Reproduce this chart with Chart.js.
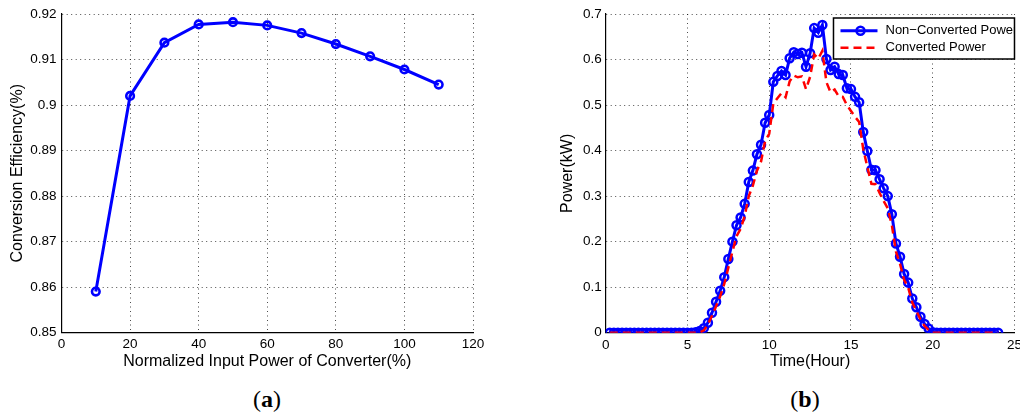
<!DOCTYPE html>
<html lang="en">
<head>
<meta charset="utf-8">
<script src="https://cdn.jsdelivr.net/npm/chart.js"></script>
<style>
    html, body {
        margin: 0;
        padding: 0;
        background: #fff;
        overflow: hidden;
        width: 1020px;
        height: 417px;
    }
    #boxA { position: absolute; left: 0; top: 0; width: 500px; height: 375px; }
    #boxB { position: absolute; left: 540px; top: 0; width: 486px; height: 375px; }
    .tag {
        position: absolute;
        top: 386px;
        width: 60px;
        text-align: center;
        font-family: 'Liberation Serif', serif;
        font-size: 24px;
        color: #000;
    }
    #tagA { left: 237px; }
    #tagB { left: 775px; }
</style>
</head>
<body>
<div id="boxA"><canvas id="chartA" width="500" height="375"></canvas></div>
<div id="boxB"><canvas id="chartB" width="486" height="375"></canvas></div>
<div class="tag" id="tagA">(<b>a</b>)</div>
<div class="tag" id="tagB">(<b>b</b>)</div>

<script>
// (a) efficiency vs normalized input power
const inputPower = [10, 20, 30, 40, 50, 60, 70, 80, 90, 100, 110];
const efficiency = [0.859, 0.902, 0.9137, 0.9177, 0.9182, 0.9175, 0.9158, 0.9134, 0.9107, 0.9078, 0.9045];

// (b) power over the day, 15 min steps
const hours = [
    0.25, 0.5, 0.75, 1, 1.25, 1.5, 1.75, 2, 2.25, 2.5, 2.75, 3,
    3.25, 3.5, 3.75, 4, 4.25, 4.5, 4.75, 5, 5.25, 5.5, 5.75, 6,
    6.25, 6.5, 6.75, 7, 7.25, 7.5, 7.75, 8, 8.25, 8.5, 8.75, 9,
    9.25, 9.5, 9.75, 10, 10.25, 10.5, 10.75, 11, 11.25, 11.5, 11.75, 12,
    12.25, 12.5, 12.75, 13, 13.25, 13.5, 13.75, 14, 14.25, 14.5, 14.75, 15,
    15.25, 15.5, 15.75, 16, 16.25, 16.5, 16.75, 17, 17.25, 17.5, 17.75, 18,
    18.25, 18.5, 18.75, 19, 19.25, 19.5, 19.75, 20, 20.25, 20.5, 20.75, 21,
    21.25, 21.5, 21.75, 22, 22.25, 22.5, 22.75, 23, 23.25, 23.5, 23.75, 24
];
const nonConverted = [
    0, 0, 0, 0, 0, 0, 0, 0, 0, 0, 0, 0,
    0, 0, 0, 0, 0, 0, 0, 0, 0, 0.001, 0.004, 0.010,
    0.022, 0.044, 0.068, 0.092, 0.122, 0.162, 0.200, 0.236, 0.253, 0.283, 0.331, 0.356,
    0.392, 0.413, 0.461, 0.478, 0.551, 0.564, 0.575, 0.566, 0.603, 0.616, 0.612, 0.615,
    0.584, 0.614, 0.669, 0.659, 0.676, 0.601, 0.577, 0.584, 0.568, 0.566, 0.537, 0.535,
    0.518, 0.506, 0.441, 0.399, 0.358, 0.357, 0.337, 0.317, 0.300, 0.260, 0.196, 0.167,
    0.129, 0.110, 0.075, 0.056, 0.035, 0.019, 0.009, 0.001, 0, 0, 0, 0,
    0, 0, 0, 0, 0, 0, 0, 0, 0, 0, 0, 0
];
const converted = [
    0, 0, 0, 0, 0, 0, 0, 0, 0, 0, 0, 0,
    0, 0, 0, 0, 0, 0, 0, 0, 0, 0, 0, 0.005,
    0.018, 0.037, 0.058, 0.080, 0.107, 0.143, 0.178, 0.212, 0.228, 0.256, 0.300, 0.323,
    0.356, 0.376, 0.421, 0.437, 0.503, 0.515, 0.526, 0.517, 0.552, 0.565, 0.561, 0.563,
    0.535, 0.562, 0.611, 0.602, 0.619, 0.550, 0.528, 0.534, 0.519, 0.518, 0.500, 0.487,
    0.474, 0.463, 0.403, 0.364, 0.327, 0.326, 0.307, 0.289, 0.273, 0.236, 0.178, 0.151,
    0.116, 0.099, 0.066, 0.048, 0.029, 0.015, 0.006, 0, 0, 0, 0, 0,
    0, 0, 0, 0, 0, 0, 0, 0, 0, 0, 0, 0
];
const legendLabels = ['Non\u2212Converted Power', 'Converted Power'];

Chart.defaults.font.family = "'Liberation Sans', Arial, sans-serif";
Chart.defaults.color = '#000';
Chart.defaults.animation = false;

const gridDots = { color: 'rgba(0,0,0,0.7)', lineWidth: 1, drawTicks: false };
const borderDots = { display: true, color: '#000', width: 1.2, dash: [1, 3.5] };
const fmt = v => String(+v.toFixed(2));

function xy(xs, ys) {
    return xs.map((x, i) => ({ x: x, y: ys[i] }));
}

// legend box drawn inside the plot, top right, clipped like the original
const boxLegend = {
    id: 'boxLegend',
    afterDraw(chart) {
        const { ctx, chartArea } = chart;
        const w = 181, h = 41;
        const x0 = chartArea.right - w, y0 = chartArea.top + 4;
        ctx.save();
        ctx.fillStyle = '#fff';
        ctx.fillRect(x0, y0, w, h);
        ctx.beginPath();
        ctx.rect(x0, y0, w, h);
        ctx.clip();
        // row 1: blue line with circle
        let ry = y0 + 12.7;
        ctx.strokeStyle = '#0000ff';
        ctx.lineWidth = 3;
        ctx.setLineDash([]);
        ctx.beginPath(); ctx.moveTo(x0 + 7, ry); ctx.lineTo(x0 + 44, ry); ctx.stroke();
        ctx.lineWidth = 2.5;
        ctx.beginPath(); ctx.arc(x0 + 27, ry, 4, 0, Math.PI * 2); ctx.stroke();
        // row 2: red dashes
        let ry2 = y0 + 29.7;
        ctx.strokeStyle = '#ff0000';
        ctx.lineWidth = 2.5;
        ctx.setLineDash([8, 5]);
        ctx.beginPath(); ctx.moveTo(x0 + 7, ry2); ctx.lineTo(x0 + 44, ry2); ctx.stroke();
        ctx.setLineDash([]);
        ctx.fillStyle = '#000';
        ctx.font = "13px 'Liberation Sans', Arial, sans-serif";
        ctx.textBaseline = 'middle';
        ctx.fillText(legendLabels[0], x0 + 52, ry);
        ctx.fillText(legendLabels[1], x0 + 52, ry2);
        ctx.restore();
        ctx.save();
        ctx.strokeStyle = '#000';
        ctx.lineWidth = 1.5;
        ctx.strokeRect(x0, y0, w, h);
        ctx.restore();
    }
};

new Chart(document.getElementById('chartA'), {
    type: 'line',
    data: {
        datasets: [{
            data: xy(inputPower, efficiency),
            borderColor: '#0000ff',
            borderWidth: 3,
            pointRadius: 3.8,
            pointBorderWidth: 2.6,
            pointBackgroundColor: 'rgba(0,0,0,0)',
            pointBorderColor: '#0000ff',
            tension: 0
        }]
    },
    options: {
        responsive: false,
        layout: { padding: { top: 14, right: 27, left: 0, bottom: 0 } },
        plugins: { legend: { display: false }, tooltip: { enabled: false } },
        scales: {
            x: {
                type: 'linear', min: 0, max: 120,
                ticks: { stepSize: 20, padding: 4, font: { size: 13.5 } },
                grid: gridDots, border: borderDots,
                title: { display: true, text: 'Normalized Input Power of Converter(%)', font: { size: 16 }, padding: { top: 0, bottom: 3.7 } },
                afterFit: s => { s.height = 42.5; }
            },
            y: {
                min: 0.85, max: 0.92,
                ticks: { stepSize: 0.01, padding: 5, font: { size: 13.5 }, callback: fmt },
                grid: gridDots, border: borderDots,
                title: { display: true, text: 'Conversion Efficiency(%)', font: { size: 16 }, padding: { top: 8.4, bottom: 0 } },
                afterFit: s => { s.width = 61.5; }
            }
        }
    }
});

new Chart(document.getElementById('chartB'), {
    type: 'line',
    data: {
        datasets: [{
            label: legendLabels[0],
            data: xy(hours, nonConverted),
            borderColor: '#0000ff',
            borderWidth: 3,
            pointRadius: 4,
            pointBorderWidth: 2.5,
            pointBackgroundColor: 'rgba(0,0,0,0)',
            pointBorderColor: '#0000ff',
            tension: 0,
            order: 1
        }, {
            label: legendLabels[1],
            data: xy(hours, converted),
            borderColor: '#ff0000',
            borderWidth: 2.5,
            borderDash: [8, 5],
            pointRadius: 0,
            tension: 0,
            order: 0
        }]
    },
    options: {
        responsive: false,
        layout: { padding: { top: 14, right: 8.7, left: 0, bottom: 0 } },
        plugins: { legend: { display: false }, tooltip: { enabled: false } },
        scales: {
            x: {
                type: 'linear', min: 0, max: 25,
                ticks: { stepSize: 5, padding: 4, font: { size: 13.5 } },
                grid: gridDots, border: borderDots,
                title: { display: true, text: 'Time(Hour)', font: { size: 16 }, padding: { top: 0, bottom: 3.7 } },
                afterFit: s => { s.height = 42.3; }
            },
            y: {
                min: 0, max: 0.7,
                ticks: { stepSize: 0.1, padding: 4, font: { size: 13.5 }, callback: fmt },
                grid: gridDots, border: borderDots,
                title: { display: true, text: 'Power(kW)', font: { size: 16 }, padding: { top: 18, bottom: 0 } },
                afterFit: s => { s.width = 65.7; }
            }
        }
    },
    plugins: [boxLegend]
});
</script>
</body>
</html>
